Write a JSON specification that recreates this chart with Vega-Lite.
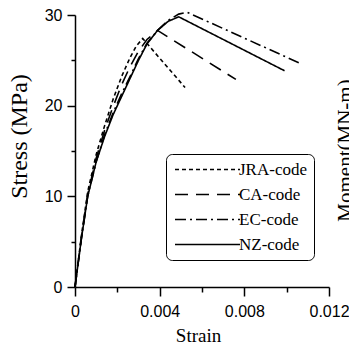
{
  "$schema": "https://vega.github.io/schema/vega-lite/v6.json",
  "width": 254,
  "height": 272,
  "autosize": {"type": "none"},
  "padding": {"left": 75, "top": 15, "right": 20, "bottom": 57},
  "background": "white",
  "config": {"view": {"stroke": null}},
  "data": {"values": [
    {"code": "JRA-code", "strain": 0, "stress": 0},
    {"code": "JRA-code", "strain": 0.0003, "stress": 5.6},
    {"code": "JRA-code", "strain": 0.0006, "stress": 10.5},
    {"code": "JRA-code", "strain": 0.001, "stress": 14.6},
    {"code": "JRA-code", "strain": 0.0014, "stress": 17.8},
    {"code": "JRA-code", "strain": 0.0018, "stress": 20.7},
    {"code": "JRA-code", "strain": 0.0022, "stress": 23.2},
    {"code": "JRA-code", "strain": 0.0026, "stress": 25.3},
    {"code": "JRA-code", "strain": 0.0029, "stress": 26.6},
    {"code": "JRA-code", "strain": 0.0032, "stress": 27.4},
    {"code": "JRA-code", "strain": 0.0052, "stress": 22.0},
    {"code": "CA-code", "strain": 0, "stress": 0},
    {"code": "CA-code", "strain": 0.0003, "stress": 5.4},
    {"code": "CA-code", "strain": 0.0006, "stress": 10.2},
    {"code": "CA-code", "strain": 0.001, "stress": 14.2},
    {"code": "CA-code", "strain": 0.0014, "stress": 17.3},
    {"code": "CA-code", "strain": 0.0018, "stress": 19.9},
    {"code": "CA-code", "strain": 0.0022, "stress": 22.3},
    {"code": "CA-code", "strain": 0.0026, "stress": 24.3},
    {"code": "CA-code", "strain": 0.003, "stress": 26.0},
    {"code": "CA-code", "strain": 0.0034, "stress": 27.3},
    {"code": "CA-code", "strain": 0.0039, "stress": 28.3},
    {"code": "CA-code", "strain": 0.0076, "stress": 22.9},
    {"code": "EC-code", "strain": 0, "stress": 0},
    {"code": "EC-code", "strain": 0.0003, "stress": 5.3},
    {"code": "EC-code", "strain": 0.0006, "stress": 10.0},
    {"code": "EC-code", "strain": 0.001, "stress": 13.8},
    {"code": "EC-code", "strain": 0.0014, "stress": 16.8},
    {"code": "EC-code", "strain": 0.0018, "stress": 19.2},
    {"code": "EC-code", "strain": 0.0022, "stress": 21.3},
    {"code": "EC-code", "strain": 0.0026, "stress": 23.2},
    {"code": "EC-code", "strain": 0.003, "stress": 25.2},
    {"code": "EC-code", "strain": 0.0034, "stress": 26.9},
    {"code": "EC-code", "strain": 0.0039, "stress": 28.3},
    {"code": "EC-code", "strain": 0.0044, "stress": 29.4},
    {"code": "EC-code", "strain": 0.0049, "stress": 30.1},
    {"code": "EC-code", "strain": 0.0053, "stress": 30.3},
    {"code": "EC-code", "strain": 0.0107, "stress": 24.6},
    {"code": "NZ-code", "strain": 0, "stress": 0},
    {"code": "NZ-code", "strain": 0.0003, "stress": 5.3},
    {"code": "NZ-code", "strain": 0.0006, "stress": 10.0},
    {"code": "NZ-code", "strain": 0.001, "stress": 13.8},
    {"code": "NZ-code", "strain": 0.0014, "stress": 16.6},
    {"code": "NZ-code", "strain": 0.0018, "stress": 19.0},
    {"code": "NZ-code", "strain": 0.0022, "stress": 21.0},
    {"code": "NZ-code", "strain": 0.0026, "stress": 23.0},
    {"code": "NZ-code", "strain": 0.003, "stress": 25.0},
    {"code": "NZ-code", "strain": 0.0034, "stress": 26.8},
    {"code": "NZ-code", "strain": 0.0039, "stress": 28.3},
    {"code": "NZ-code", "strain": 0.0044, "stress": 29.3},
    {"code": "NZ-code", "strain": 0.0049, "stress": 29.8},
    {"code": "NZ-code", "strain": 0.0099, "stress": 23.85}
  ]},
  "layer": [
    {
      "mark": {"type": "line", "color": "black", "strokeWidth": 1.6},
      "encoding": {
        "x": {
          "field": "strain", "type": "quantitative",
          "scale": {"domain": [0, 0.012], "nice": false},
          "axis": {
            "values": [0, 0.002, 0.004, 0.006, 0.008, 0.01, 0.012],
            "labelExpr": "round(datum.value*1000)%4===0 ? (datum.value===0 ? '0' : format(datum.value,'.3f')) : ''",
            "tickSize": {"condition": {"test": "round(datum.value*1000)%4===0", "value": 9}, "value": 5},
            "tickColor": "black", "tickWidth": 1.5,
            "domainColor": "black", "domainWidth": 1.5,
            "grid": false,
            "labelFont": "Liberation Sans", "labelFontSize": 16, "labelColor": "black",
            "labelPadding": 7, "labelFlush": false, "labelOverlap": false,
            "title": "Strain", "titleFont": "Liberation Serif", "titleFontSize": 19,
            "titleFontWeight": "normal", "titleColor": "black",
            "titleX": 123, "titleY": 54, "titleBaseline": "alphabetic", "titleAlign": "center"
          }
        },
        "y": {
          "field": "stress", "type": "quantitative",
          "scale": {"domain": [0, 30], "nice": false},
          "axis": {
            "values": [0, 5, 10, 15, 20, 25, 30],
            "labelExpr": "datum.value % 10 === 0 ? datum.label : ''",
            "tickSize": {"condition": {"test": "datum.value % 10 === 0", "value": 8}, "value": 4},
            "tickColor": "black", "tickWidth": 1.5,
            "domainColor": "black", "domainWidth": 1.5,
            "grid": false,
            "labelFont": "Liberation Sans", "labelFontSize": 16, "labelColor": "black",
            "labelPadding": 5, "labelFlush": false, "labelOverlap": false,
            "title": "Stress (MPa)", "titleFont": "Liberation Serif", "titleFontSize": 24,
            "titleFontWeight": "normal", "titleColor": "black",
            "titleX": -49, "titleY": 121, "titleAngle": 270, "titleBaseline": "alphabetic", "titleAlign": "center"
          }
        },
        "strokeDash": {
          "field": "code", "type": "nominal",
          "scale": {
            "domain": ["JRA-code", "CA-code", "EC-code", "NZ-code"],
            "range": [[4, 3], [13, 8], [11, 4, 2, 4], [1, 0]]
          },
          "legend": {
            "orient": "none", "legendX": 91, "legendY": 139,
            "title": null,
            "symbolType": "M-5,0H5", "symbolSize": 169, "symbolOffset": 26,
            "symbolStrokeColor": "black", "symbolStrokeWidth": 1.6,
            "labelFont": "Liberation Serif", "labelFontSize": 17, "labelColor": "black",
            "labelOffset": 23, "rowPadding": 7,
            "strokeColor": "black", "cornerRadius": 6, "padding": 7,
            "fillColor": "white"
          }
        }
      }
    },
    {
      "mark": {"type": "point", "opacity": 0},
      "encoding": {
        "y": {
          "field": "stress", "type": "quantitative",
          "axis": {
            "orient": "right", "labels": false, "ticks": false, "domain": false, "grid": false,
            "title": "Moment(MN-m)", "titleFont": "Liberation Serif", "titleFontSize": 21,
            "titleFontWeight": "normal", "titleColor": "black",
            "titleX": 22, "titleY": 135, "titleAngle": 270, "titleBaseline": "alphabetic", "titleAlign": "center"
          }
        }
      }
    }
  ],
  "resolve": {"axis": {"y": "independent"}}
}
